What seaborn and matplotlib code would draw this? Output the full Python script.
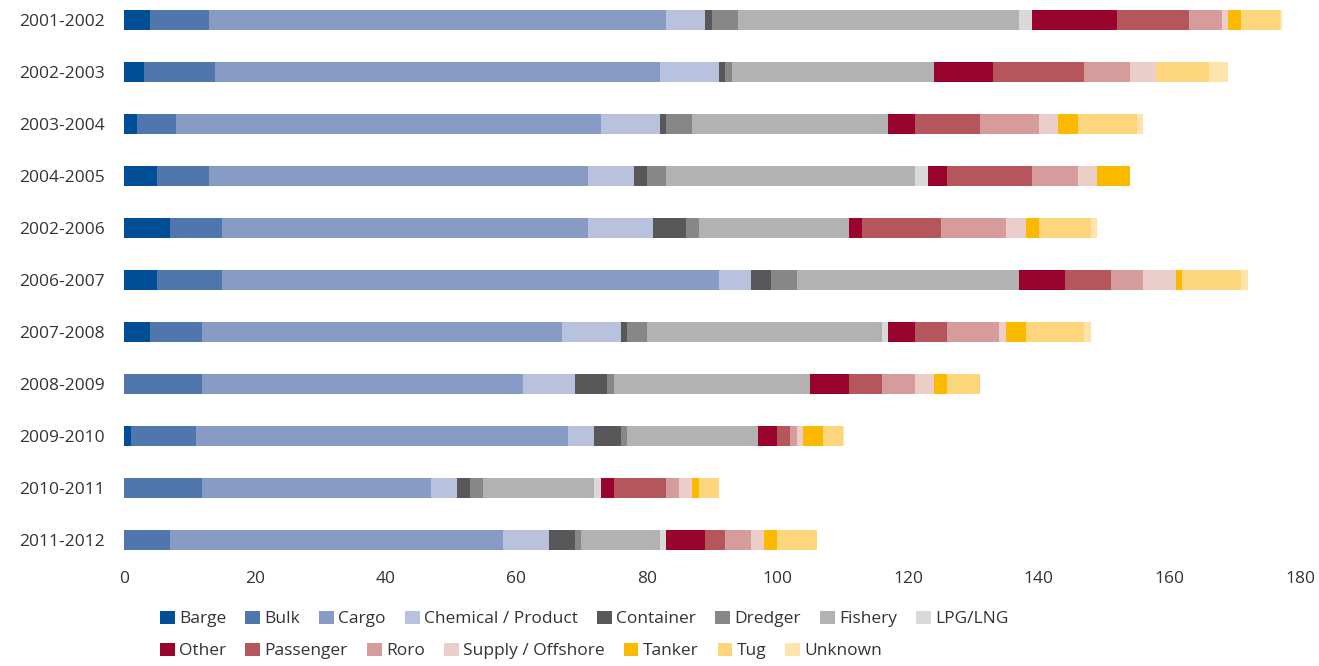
import matplotlib
matplotlib.use("Agg")
import matplotlib.pyplot as plt
import seaborn as sns
import pandas as pd
import numpy as np
from matplotlib.patches import Patch

periods = ["2001-2002", "2002-2003", "2003-2004", "2004-2005", "2002-2006",
           "2006-2007", "2007-2008", "2008-2009", "2009-2010", "2010-2011", "2011-2012"]

series_names = ["Barge", "Bulk", "Cargo", "Chemical / Product", "Container", "Dredger",
                "Fishery", "LPG/LNG", "Other", "Passenger", "Roro", "Supply / Offshore",
                "Tanker", "Tug", "Unknown"]

barge     = [4, 3, 2, 5, 7, 5, 4, 0, 1, 0, 0]
bulk      = [9, 11, 6, 8, 8, 10, 8, 12, 10, 12, 7]
cargo     = [70, 68, 65, 58, 56, 76, 55, 49, 57, 35, 51]
chemical  = [6, 9, 9, 7, 10, 5, 9, 8, 4, 4, 7]
container = [1, 1, 1, 2, 5, 3, 1, 5, 4, 2, 4]
dredger   = [4, 1, 4, 3, 2, 4, 3, 1, 1, 2, 1]
fishery   = [43, 31, 30, 38, 23, 34, 36, 30, 20, 17, 12]
lpg       = [2, 0, 0, 2, 0, 0, 1, 0, 0, 1, 1]
other     = [13, 9, 4, 3, 2, 7, 4, 6, 3, 2, 6]
passenger = [11, 14, 10, 13, 12, 7, 5, 5, 2, 8, 3]
roro      = [5, 7, 9, 7, 10, 5, 8, 5, 1, 2, 4]
supply    = [1, 4, 3, 3, 3, 5, 1, 3, 1, 2, 2]
tanker    = [2, 0, 3, 5, 2, 1, 3, 2, 3, 1, 2]
tug       = [6, 8, 9, 0, 8, 9, 9, 5, 3, 3, 6]
unknown   = [0.2, 3, 1, 0, 1, 1, 1, 0, 0.2, 0, 0]

series_values = [barge, bulk, cargo, chemical, container, dredger, fishery, lpg,
                 other, passenger, roro, supply, tanker, tug, unknown]

colors = ["#004f96", "#4f77ae", "#879bc5", "#b8c2de", "#58585a", "#878787",
          "#b2b2b3", "#d9d9da", "#99042e", "#b5565c", "#d59c9b", "#ebcdca",
          "#fbba00", "#fdd57c", "#fee4aa"]

x_ticks = [0, 20, 40, 60, 80, 100, 120, 140, 160, 180]

sns.set_theme(style="white")
plt.rcParams["font.family"] = ["Open Sans", "DejaVu Sans"]

df = pd.DataFrame({name: vals for name, vals in zip(series_names, series_values)})
df["period"] = periods
cum = df[series_names].cumsum(axis=1)
cum["period"] = periods

fig = plt.figure(figsize=(13.19, 6.66), dpi=100)
ax = fig.add_axes([124 / 1319, 1 - 560 / 666, (1300 - 124) / 1319, 560 / 666])

for name, col in reversed(list(zip(series_names, colors))):
    sns.barplot(data=cum, x=name, y="period", order=periods, orient="h",
                color=col, width=0.4, linewidth=0, saturation=1, ax=ax)

ax.set_xlim(0, 180)
ax.set_ylim(10.385, -0.385)
ax.set_xticks(x_ticks)
ax.set_xticklabels([str(t) for t in x_ticks])
ax.set_xlabel("")
ax.set_ylabel("")
for s in ax.spines.values():
    s.set_visible(False)
ax.tick_params(axis="both", length=0, labelsize=12.5, colors="#333333")
ax.tick_params(axis="y", pad=14)
ax.tick_params(axis="x", pad=8)
ax.grid(False)

handles = [Patch(facecolor=c, edgecolor="none", label=n) for n, c in zip(series_names, colors)]
leg_kw = dict(frameon=False, fontsize=12.5, handlelength=0.85, handleheight=0.85,
              handletextpad=0.25, columnspacing=1.1, borderpad=0, borderaxespad=0,
              loc="center left", labelcolor="#333333")
leg1 = fig.legend(handles=handles[:8], ncol=8, bbox_to_anchor=(160 / 1319, 1 - 619 / 666), **leg_kw)
leg2 = fig.legend(handles=handles[8:], ncol=7, bbox_to_anchor=(160 / 1319, 1 - 651 / 666), **leg_kw)

fig.savefig("out.png", dpi=100)
